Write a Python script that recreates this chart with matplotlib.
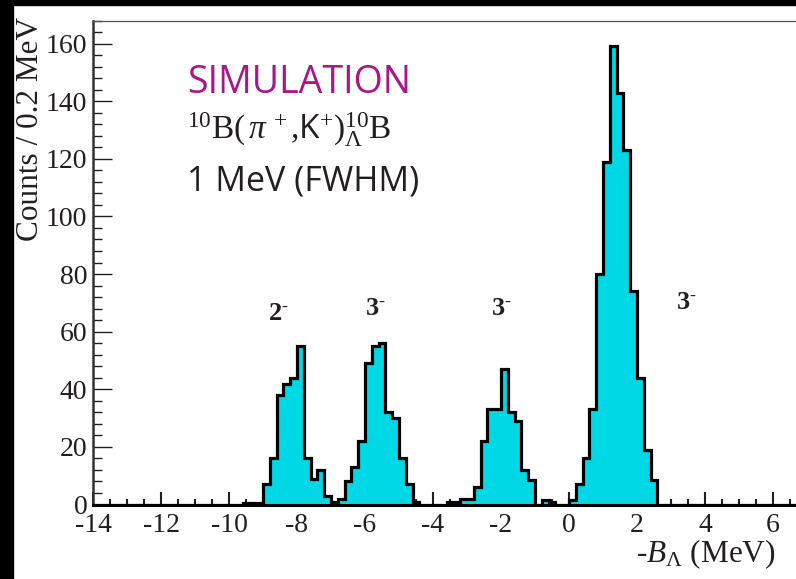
import numpy as np
import matplotlib
matplotlib.use('Agg')
import matplotlib.pyplot as plt
from matplotlib.patches import Rectangle
from matplotlib.ticker import MultipleLocator

plt.rcParams['font.family'] = ['Liberation Serif', 'DejaVu Serif']
plt.rcParams['mathtext.fontset'] = 'custom'
plt.rcParams['mathtext.rm'] = 'Liberation Serif'
plt.rcParams['mathtext.it'] = 'Liberation Serif:italic'
plt.rcParams['mathtext.bf'] = 'Liberation Serif:bold'
plt.rcParams['mathtext.sf'] = 'Open Sans'
plt.rcParams['axes.unicode_minus'] = False

# histogram: 0.2 MeV bins, counts
bin_width = 0.2
first_bin = -9.6
counts = [0.6, 0.6, 0.6,
          7, 16, 38, 42, 44, 55,
          16, 9, 12, 3, 1,
          2, 8, 13, 22, 49,
          55, 56, 32, 30, 16,
          7, 1, 0, 0, 0,
          0, 1, 1, 2, 2,
          6, 22, 33, 33, 47,
          32, 29, 12, 8.5, 0,
          1.5, 1, 0, 0, 1.5,
          7, 16, 33, 80, 119,
          159, 143, 123, 74, 44,
          19, 8.5]

peak_labels = ['2', '3', '3', '3']
peak_x = [-8.55, -5.7, -2.0, 3.45]
peak_y = [66, 68, 68, 70]

x_min, x_max = -14, 7
y_min, y_max = 0, 168

edges = np.round(np.arange(x_min, x_max + bin_width / 2, bin_width), 3)
full = np.zeros(len(edges) - 1)
i0 = int(round((first_bin - x_min) / bin_width))
full[i0:i0 + len(counts)] = counts

W, H = 796, 579
fig = plt.figure(figsize=(W / 100, H / 100), dpi=100)
fig.patch.set_facecolor('white')

def fx(px):
    return px / W

def fy(py):
    return 1 - py / H

ax = fig.add_axes([fx(93), fy(504.5), (807 - 93) / W, (504.5 - 20.5) / H])
ax.set_xlim(x_min, x_max)
ax.set_ylim(y_min, y_max)

dark = '#231f20'
cyan = '#00d8e6'
ax.stairs(full, edges, fill=True, color=cyan, zorder=2)
ax.stairs(full, edges, color='black', lw=2.3, zorder=3)

ax.xaxis.set_major_locator(MultipleLocator(2))
ax.xaxis.set_minor_locator(MultipleLocator(0.5))
ax.yaxis.set_major_locator(MultipleLocator(20))
ax.yaxis.set_minor_locator(MultipleLocator(4))

ax.tick_params(axis='x', which='major', direction='in', length=9.5, width=1.5,
               color=dark, labelsize=20, labelcolor=dark, pad=6)
ax.tick_params(axis='x', which='minor', direction='in', length=4.5, width=1.5, color=dark)
ax.tick_params(axis='y', which='major', direction='in', length=13.5, width=1.0,
               color=dark, labelsize=20, labelcolor=dark, pad=4)
ax.tick_params(axis='y', which='minor', direction='in', length=6.5, width=1.0, color=dark)

ax.spines['bottom'].set_linewidth(2.2)
ax.spines['bottom'].set_color('black')
ax.spines['left'].set_linewidth(1.8)
ax.spines['left'].set_color('#333333')
ax.spines['top'].set_linewidth(0.9)
ax.spines['top'].set_color('#555555')
ax.spines['right'].set_visible(False)

for lab, x, y in zip(peak_labels, peak_x, peak_y):
    ax.text(x, y, r'$\mathbf{' + lab + r'}^{\text{-}}$', fontsize=19, ha='center',
            va='center', color=dark, zorder=4)

# axis titles
fig.text(fx(31), fy(17), 'Counts / 0.2 MeV', rotation=90, ha='center', va='top',
         fontsize=22.5, color=dark)
fig.text(fx(776), fy(562), r'-$B_{\Lambda}$ (MeV)', ha='right', va='baseline',
         fontsize=22.5, color=dark)

# annotation block
fig.text(fx(187), fy(93), 'SIMULATION', family='Open Sans', fontsize=27,
         color='#a8168a', ha='left', va='baseline')
fig.text(fx(187), fy(139),
         r'$^{10}\mathrm{B}(\,\pi^{\,+}{,}\mathsf{K}^{+})^{10}_{\Lambda}\mathrm{B}$',
         fontsize=24, color=dark, ha='left', va='baseline')
fig.text(fx(187), fy(190), '1 MeV (FWHM)', family='Open Sans', fontsize=24.5,
         color=dark, ha='left', va='baseline')

# black frame edges of the original scan
fig.add_artist(Rectangle((0, 0), fx(13), 1, transform=fig.transFigure,
                         color='black', zorder=10))
fig.add_artist(Rectangle((0, fy(5)), 1, 5 / H, transform=fig.transFigure,
                         color='black', zorder=10))

fig.savefig('out.png', dpi=100)
